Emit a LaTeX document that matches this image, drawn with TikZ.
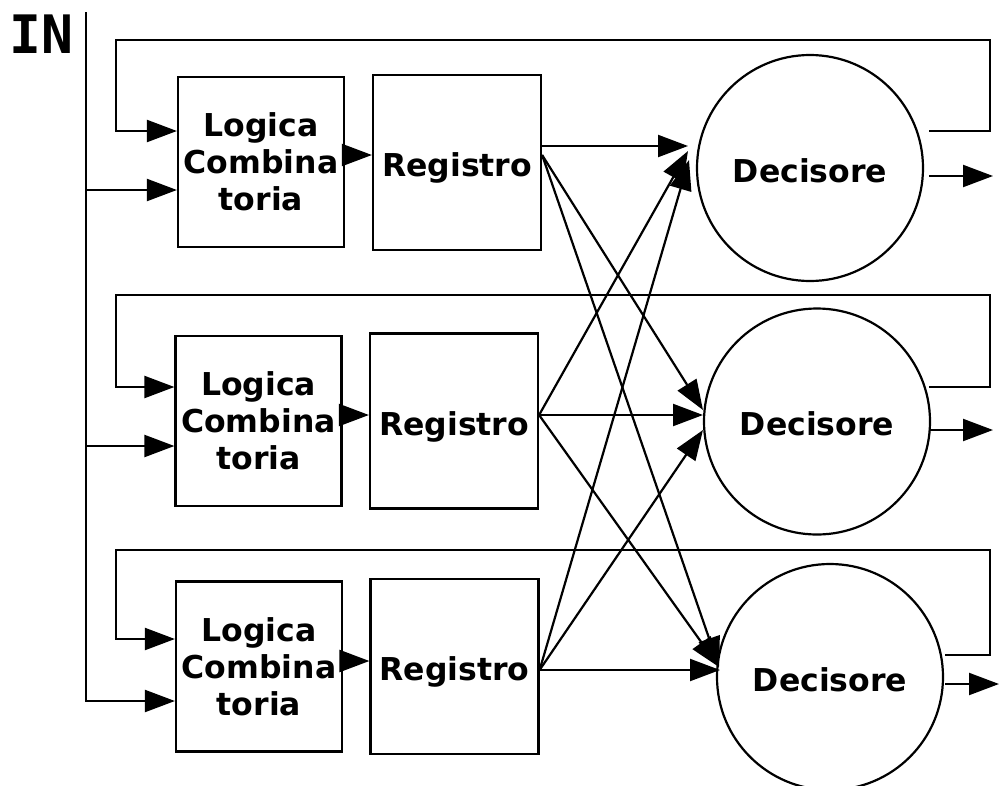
\documentclass[tikz,border=0pt]{standalone}
\usepackage{fontspec}
\setmainfont{DejaVu Sans}
\newfontfamily\inmono{DejaVu Sans Mono}
\usetikzlibrary{arrows.meta}
\begin{document}
\begin{tikzpicture}[x=1pt,y=-1pt,
  every node/.style={inner sep=0pt},
  wire/.style={line width=2.2pt},
  arr/.style={wire,-{Triangle[length=30pt,width=22pt]}},
  txt/.style={font=\bfseries\fontsize{31.5}{37}\selectfont,align=center},
  lcbox/.style={draw,line width=2.2pt,txt,minimum width=166pt,minimum height=170pt},
  regbox/.style={draw,line width=2.2pt,txt,minimum width=168pt,minimum height=175pt},
  decbox/.style={draw,circle,line width=2.2pt,txt,minimum size=226pt}]
\useasboundingbox (0,0) rectangle (999,785);

\node[font=\inmono\bfseries\fontsize{53}{60}\selectfont,anchor=base west] (inlbl) at (9,53) {IN};

% blocks
\node[lcbox] (lc1) at (261,162) {Logica\\Combina\\toria};
\node[regbox] (rg1) at (457,162.5) {\raisebox{0pt}[28pt][0pt]{Registro}};
\node[decbox] (d1) at (810,168) {\raisebox{0pt}[28pt][0pt]{Decisore}};

\node[lcbox] (lc2) at (258.5,421) {Logica\\Combina\\toria};
\node[regbox] (rg2) at (454,421) {\raisebox{0pt}[28pt][0pt]{Registro}};
\node[decbox] (d2) at (817,421.5) {\raisebox{0pt}[28pt][0pt]{Decisore}};

\node[lcbox] (lc3) at (259,666.5) {Logica\\Combina\\toria};
\node[regbox] (rg3) at (454.5,666.5) {\raisebox{0pt}[28pt][0pt]{Registro}};
\node[decbox] (d3) at (830,677) {\raisebox{0pt}[28pt][0pt]{Decisore}};

% input bus
\coordinate (inT) at (86,12);
\coordinate (in1) at (86,190);
\coordinate (in2) at (86,446);
\coordinate (in3) at (86,701);
\draw[arr] (inT) -- (in3) -- (in3 -| lc3.west);
\draw[arr] (in1) -- (in1 -| lc1.west);
\draw[arr] (in2) -- (in2 -| lc2.west);

% feedback loops
\coordinate (f1a) at (929,131); \coordinate (f1b) at (990,131);
\coordinate (f1c) at (990,40);  \coordinate (f1d) at (116,40);
\coordinate (f1e) at (116,131);
\draw[arr] (f1a) -- (f1b) -- (f1c) -- (f1d) -- (f1e) -- (f1e -| lc1.west);

\coordinate (f2a) at (929,387); \coordinate (f2b) at (990,387);
\coordinate (f2c) at (990,295); \coordinate (f2d) at (116,295);
\coordinate (f2e) at (116,387);
\draw[arr] (f2a) -- (f2b) -- (f2c) -- (f2d) -- (f2e) -- (f2e -| lc2.west);

\coordinate (f3a) at (945,655); \coordinate (f3b) at (990,655);
\coordinate (f3c) at (990,550); \coordinate (f3d) at (116,550);
\coordinate (f3e) at (116,639);
\draw[arr] (f3a) -- (f3b) -- (f3c) -- (f3d) -- (f3e) -- (f3e -| lc3.west);

% outputs
\coordinate (o1a) at (929,176); \coordinate (o1b) at (993,176);
\coordinate (o2a) at (930,430); \coordinate (o2b) at (993,430);
\coordinate (o3a) at (945,684); \coordinate (o3b) at (999,684);
\draw[arr] (o1a) -- (o1b);
\draw[arr] (o2a) -- (o2b);
\draw[arr] (o3a) -- (o3b);

% logic -> register
\coordinate (m1) at (0,155);
\coordinate (m2) at (0,415);
\coordinate (m3) at (0,661);
\draw[arr] (lc1.east |- m1) -- (rg1.west |- m1);
\draw[arr] (lc2.east |- m2) -- (rg2.west |- m2);
\draw[arr] (lc3.east |- m3) -- (rg3.west |- m3);

% register outputs
\coordinate (s1h) at (0,146);
\coordinate (s1d) at (0,155);
\coordinate (s2) at (0,415);
\coordinate (s3) at (0,670);
\coordinate (t11) at (688,146);
\coordinate (t21) at (688,151);
\coordinate (t31) at (689,160);
\coordinate (t12) at (703,410);
\coordinate (t22) at (703,415);
\coordinate (t32) at (703,430);
\coordinate (t13) at (719,667);
\coordinate (t23) at (719,667);
\coordinate (t33) at (720,670);

\draw[arr] (rg1.east |- s1h) -- (t11);
\draw[arr] (rg1.east |- s1d) -- (t12);
\draw[arr] (rg1.east |- s1d) -- (t13);
\draw[arr] (rg2.east |- s2) -- (t22);
\draw[arr] (rg2.east |- s2) -- (t21);
\draw[arr] (rg2.east |- s2) -- (t23);
\draw[arr] (rg3.east |- s3) -- (t33);
\draw[arr] (rg3.east |- s3) -- (t31);
\draw[arr] (rg3.east |- s3) -- (t32);
\end{tikzpicture}
\end{document}
